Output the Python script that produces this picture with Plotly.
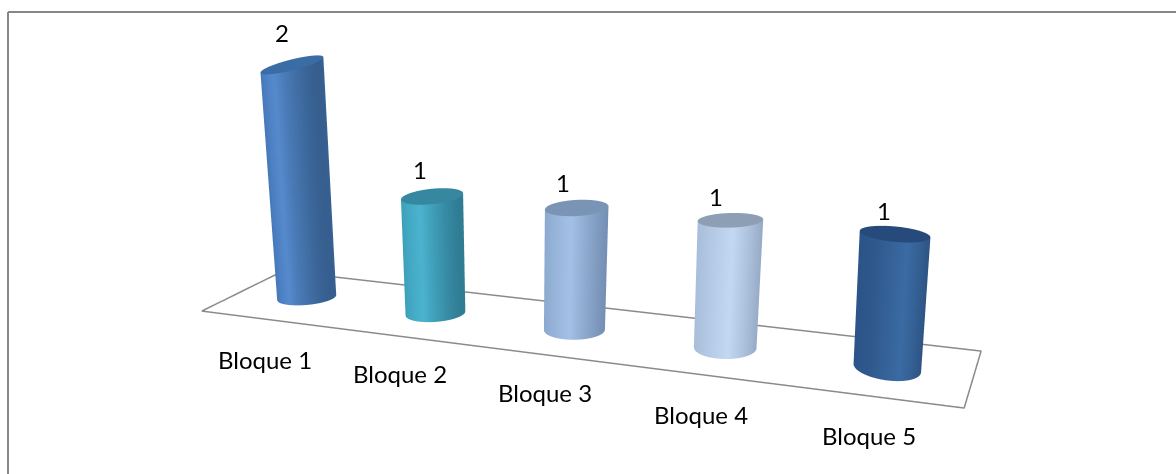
import numpy as np
import plotly.graph_objects as go

categories = ["Bloque 1", "Bloque 2", "Bloque 3", "Bloque 4", "Bloque 5"]
values = [2, 1, 1, 1, 1]

# Where each column stands on the scene floor, and how it is drawn
column_x = [-0.1421, 0.9621, 2.0454, 3.1175, 4.1591]
column_y = [0.7856, 0.5032, 0.2387, -0.0237, -0.2989]
column_lean = [0.015, 0.0, 0.0, -0.025, -0.06]
radius_x = [0.194, 0.210, 0.219, 0.217, 0.210]
radius_y = 0.2087
top_tilt_x = [0.042, 0.013, 0.016, 0.024, 0.010]
top_tilt_y = [0.093, 0.040, 0.032, 0.016, 0.016]
base_tilt_x = [-0.008, 0.0, 0.0, 0.016, 0.014]

floor_x = [-0.653, 4.382, 5.009, -0.780, -0.653]
floor_y = [0.382, -0.848, 0.042, 1.534, 0.382]

side_left = ["#3F70B0", "#3A9CB5", "#8AA7CC", "#A9BEDA", "#2C5488"]
side_mid = ["#558ACD", "#4BB3CF", "#A4C0E6", "#C3D9F3", "#3A6BA3"]
side_right = ["#365F8F", "#2F7C93", "#7590B4", "#95A9C4", "#2B4F7D"]
top_colour = ["#3A6CA5", "#35889F", "#7A94B5", "#8E9FB5", "#264B7A"]

value_dx = [-9, -13, -14, -18, -20]
value_dy = [32, 27, 25, 24, 24]
label_dx = [-42, -36, -30, -24, -18]
label_dy = [-62, -61, -63, -67, -68]

W, H = 1176, 474
depth = 0.2
height_scale = 0.3591
eye = np.array([0.0040, -0.8546, 0.1169])
centre = np.array([0.0521, -0.1105, -0.0249])
up = np.array([-0.0502, 0.0345, 1.0])
principal_x = 680

view = (eye - centre) / np.linalg.norm(eye - centre)
screen_right = np.cross(up, view)
screen_right = screen_right / np.linalg.norm(screen_right)

fig = go.Figure()
fig.add_trace(go.Scatter3d(x=floor_x, y=floor_y, z=[0] * len(floor_x), mode="lines",
                           line=dict(color="#8a8a8a", width=3), hoverinfo="skip"))

theta = np.linspace(0, 2 * np.pi, 97)
flat = dict(ambient=1, diffuse=0, specular=0, fresnel=0, roughness=1)
for i in range(len(values)):
    rim_x = column_x[i] + radius_x[i] * np.cos(theta)
    rim_y = column_y[i] + radius_y * np.sin(theta)
    z_base = base_tilt_x[i] * np.cos(theta)
    z_top = values[i] + top_tilt_x[i] * np.cos(theta) + top_tilt_y[i] * np.sin(theta)
    facing = np.arctan2(screen_right[1] * radius_y * depth, screen_right[0] * radius_x[i] / 5)
    shade = (np.cos(theta - facing) + 1) / 2
    fig.add_trace(go.Surface(
        x=np.vstack([rim_x, rim_x + column_lean[i]]), y=np.vstack([rim_y, rim_y]), z=np.vstack([z_base, z_top]),
        surfacecolor=np.vstack([shade, shade]), cmin=0, cmax=1, showscale=False, hoverinfo="skip",
        colorscale=[[0, side_left[i]], [0.5, side_mid[i]], [1, side_right[i]]], lighting=flat))
    r = np.array([0.0, 1.0])
    cap_x = column_x[i] + column_lean[i] + radius_x[i] * np.outer(r, np.cos(theta))
    cap_y = column_y[i] + radius_y * np.outer(r, np.sin(theta))
    cap_z = values[i] + np.outer(r, z_top - values[i])
    fig.add_trace(go.Surface(
        x=cap_x, y=cap_y, z=cap_z, surfacecolor=0 * cap_x, cmin=0, cmax=1, showscale=False, hoverinfo="skip",
        colorscale=[[0, top_colour[i]], [1, top_colour[i]]], lighting=flat))

font = dict(family="Lato", size=24, color="#000000")
notes = []
for i in range(len(values)):
    notes.append(dict(x=column_x[i], y=column_y[i], z=values[i], text=str(values[i]), showarrow=False,
                      xshift=value_dx[i], yshift=value_dy[i], font=font))
    notes.append(dict(x=column_x[i], y=column_y[i], z=0, text=categories[i], showarrow=False,
                      xshift=label_dx[i], yshift=label_dy[i], font=font))

hidden = dict(visible=False)
fig.update_layout(
    width=W, height=H, margin=dict(l=0, r=0, t=0, b=0), showlegend=False, paper_bgcolor="white",
    scene=dict(
        domain=dict(x=[(2 * principal_x - W) / W, 1], y=[0, 1]),
        aspectmode="manual",
        aspectratio=dict(x=21 / 5, y=21 * depth, z=height_scale * 10.5),
        xaxis=dict(range=[-8, 13], **hidden),
        yaxis=dict(range=[-10, 11], **hidden),
        zaxis=dict(range=[-9.5, 11.5], **hidden),
        camera=dict(eye=dict(x=eye[0], y=eye[1], z=eye[2]),
                    center=dict(x=centre[0], y=centre[1], z=centre[2]),
                    up=dict(x=up[0], y=up[1], z=up[2]),
                    projection=dict(type="perspective")),
        annotations=notes),
    shapes=[dict(type="line", xref="paper", yref="paper", x0=8 / W, x1=1, y0=1 - 12 / H, y1=1 - 12 / H,
                 line=dict(color="#878787", width=2)),
            dict(type="line", xref="paper", yref="paper", x0=8 / W, x1=8 / W, y0=0, y1=1 - 12 / H,
                 line=dict(color="#878787", width=2))])
fig.write_html("out.html", config={"displayModeBar": False}, post_script="document.body.style.margin='0';")
